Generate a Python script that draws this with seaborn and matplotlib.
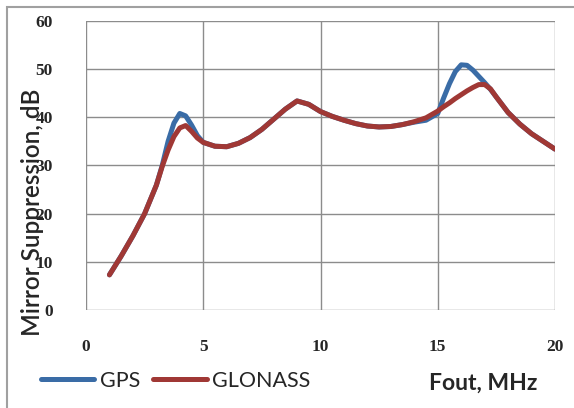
import matplotlib
matplotlib.use('Agg')
import matplotlib.pyplot as plt
import seaborn as sns
import pandas as pd
from matplotlib.patches import Rectangle

# Mirror suppression vs output frequency
fout = [1, 1.5, 2, 2.5, 3, 3.25, 3.5, 3.75, 4, 4.25, 4.5, 4.75, 5, 5.5, 6, 6.5,
        7, 7.5, 8, 8.5, 9, 9.5, 10, 10.5, 11, 11.5, 12, 12.5, 13, 13.5, 14, 14.5,
        15, 15.25, 15.5, 15.75, 16, 16.25, 16.5, 16.75, 17, 17.25, 17.5, 18,
        18.5, 19, 19.5, 20]
gps = [7.3, 11.2, 15.4, 20.0, 25.9, 30.0, 35.0, 38.8, 40.8, 40.3, 38.4, 36.2,
       34.8, 34.0, 33.9, 34.6, 35.8, 37.5, 39.6, 41.7, 43.4, 42.7, 41.2, 40.2,
       39.4, 38.7, 38.2, 38.0, 38.1, 38.5, 39.0, 39.4, 40.8, 44.0, 47.0, 49.5,
       50.9, 50.8, 49.8, 48.5, 47.2, 45.8, 44.2, 41.0, 38.6, 36.6, 35.0, 33.4]
glonass = [7.3, 11.2, 15.4, 20.0, 25.9, 29.8, 33.2, 36.0, 37.8, 38.3, 37.1, 35.7,
           34.8, 34.0, 33.9, 34.6, 35.8, 37.5, 39.6, 41.7, 43.4, 42.7, 41.2, 40.2,
           39.4, 38.7, 38.2, 38.0, 38.1, 38.5, 39.1, 39.9, 41.3, 42.2, 43.0, 43.9,
           44.7, 45.5, 46.2, 46.8, 46.8, 45.9, 44.2, 41.0, 38.6, 36.6, 35.0, 33.4]
x_ticks = [0, 5, 10, 15, 20]
y_ticks = [0, 10, 20, 30, 40, 50, 60]

df = pd.DataFrame({'Fout': fout, 'GPS': gps, 'GLONASS': glonass})

sns.set_style('whitegrid')
plt.rcParams['font.family'] = ['Lato', 'DejaVu Sans']

fig = plt.figure(figsize=(5.74, 4.08), dpi=100)
ax = fig.add_axes([86 / 574, 1 - 310 / 408, 469 / 574, 289 / 408])

sns.lineplot(data=df, x='Fout', y='GPS', ax=ax, color='#3a6ca6', lw=3.6,
             label='GPS', sort=False, solid_capstyle='round')
sns.lineplot(data=df, x='Fout', y='GLONASS', ax=ax, color='#a03835', lw=3.6,
             label='GLONASS', sort=False, solid_capstyle='round')

ax.set_xlim(0, 20)
ax.set_ylim(0, 60)
ax.set_xticks(x_ticks)
ax.set_yticks(y_ticks)
ax.grid(True, color='#8c8c8c', lw=1)
for s in ax.spines.values():
    s.set_visible(False)
ax.tick_params(axis='both', length=7, width=1, color='#8c8c8c', direction='out')
ax.tick_params(axis='x', pad=14)
ax.tick_params(axis='y', pad=17)
for lab in ax.get_xticklabels() + ax.get_yticklabels():
    lab.set_fontfamily('Liberation Serif')
    lab.set_fontweight('bold')
    lab.set_fontsize(12.5)
ax.set_xlabel('')
ax.set_ylabel('')

fig.text(33 / 574, 1 - 212 / 408, 'Mirror Suppression, dB', rotation=90,
         ha='center', va='center', fontsize=17.5, fontweight='semibold')
fig.text(483 / 574, 1 - 383 / 408, 'Fout, MHz', ha='center', va='center',
         fontsize=16.5, fontweight='bold')

ax.get_legend().remove()
h, l = ax.get_legend_handles_labels()
fig.legend(h, l, loc='center left', bbox_to_anchor=(32 / 574, 1 - 381 / 408),
           ncol=2, frameon=False, fontsize=15.5, handlelength=2.5,
           handletextpad=0.25, columnspacing=0.6, borderaxespad=0)

# outer frame (only left and top edges visible in the crop)
fig.patches.append(Rectangle((7 / 574, -0.2), 2, 1.2 - 7 / 408,
                             transform=fig.transFigure, fill=False,
                             edgecolor='#a0a0a0', lw=1.5))

fig.savefig('out.png', dpi=100)
